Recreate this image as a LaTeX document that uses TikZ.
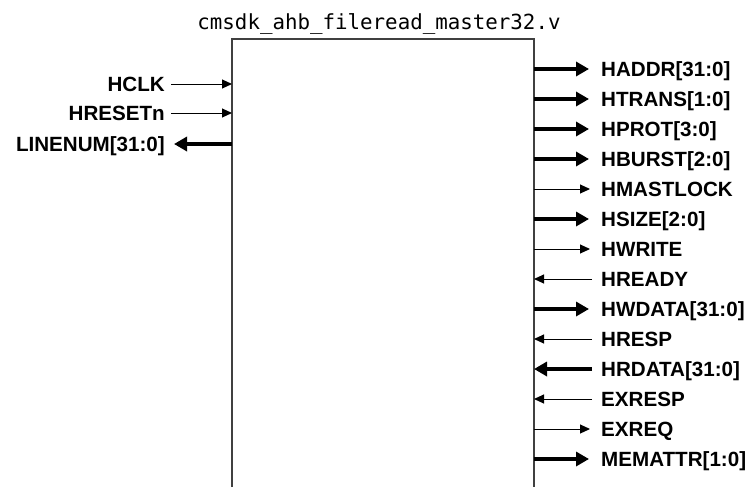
\documentclass[tikz,border=0pt]{standalone}
\usepackage{fontspec}
\setmainfont{Liberation Sans}
\newfontfamily\titlefont{DejaVu Sans Mono}
\usetikzlibrary{arrows.meta}
\tikzset{
  sig/.style={font=\fontsize{20.6}{21}\selectfont\bfseries, inner sep=0pt},
  thickarrow/.style={line width=4pt, -{Triangle[length=13pt,width=14pt]}},
  thinarrow/.style={line width=1pt, -{Triangle[length=10pt,width=9pt]}},
  boxline/.style={line width=1.2pt, draw=black!75},
}
\begin{document}
\begin{tikzpicture}[x=1pt,y=-1pt]
\useasboundingbox (0,0) rectangle (754,487);
% module outline (open at the bottom)
\draw[boxline] (232,487) -- (232,39) -- (534,39) -- (534,487);
\node[font=\titlefont\fontsize{20.8}{22}\selectfont, anchor=base, inner sep=0pt] (title) at (379,30) {cmsdk\_ahb\_fileread\_master32.v};
% left side
\node[sig, anchor=base east] (hclk) at (165,91) {HCLK};
\node[sig, anchor=base east] (hresetn) at (165,120) {HRESETn};
\node[sig, anchor=base east] (linenum) at (165,151) {LINENUM[31:0]};
\coordinate (hclkS) at (171,84);
\coordinate (hclkE) at (232,84);
\coordinate (hresetS) at (171,113);
\coordinate (hresetE) at (232,113);
\coordinate (linenumS) at (232,144);
\coordinate (linenumE) at (174,144);
\draw[thinarrow] (hclkS) -- (hclkE);
\draw[thinarrow] (hresetS) -- (hresetE);
\draw[thickarrow] (linenumS) -- (linenumE);
% right side
\foreach \name/\lab/\y in {
  haddr/{HADDR[31:0]}/69,
  htrans/{HTRANS[1:0]}/99,
  hprot/{HPROT[3:0]}/129,
  hburst/{HBURST[2:0]}/159,
  hmastlock/{HMASTLOCK}/189,
  hsize/{HSIZE[2:0]}/219,
  hwrite/{HWRITE}/249,
  hready/{HREADY}/279,
  hwdata/{HWDATA[31:0]}/309,
  hresp/{HRESP}/339,
  hrdata/{HRDATA[31:0]}/369,
  exresp/{EXRESP}/399,
  exreq/{EXREQ}/429,
  memattr/{MEMATTR[1:0]}/459}{
  \node[sig, anchor=base west] (\name) at (601,\y+7.5) {\lab};
  \coordinate (\name B) at (534,\y);
}
\foreach \name/\y in {haddr/69, htrans/99, hprot/129, hburst/159, hsize/219, hwdata/309, memattr/459}{
  \coordinate (\name T) at (589,\y);
  \draw[thickarrow] (\name B) -- (\name T);
}
\foreach \name/\y in {hmastlock/189, hwrite/249, exreq/429}{
  \coordinate (\name T) at (590,\y);
  \draw[thinarrow] (\name B) -- (\name T);
}
\foreach \name/\y in {hready/279, hresp/339, exresp/399}{
  \coordinate (\name T) at (592,\y);
  \draw[thinarrow] (\name T) -- (\name B);
}
\coordinate (hrdataT) at (592,369);
\draw[thickarrow] (hrdataT) -- (hrdataB);
\end{tikzpicture}
\end{document}
